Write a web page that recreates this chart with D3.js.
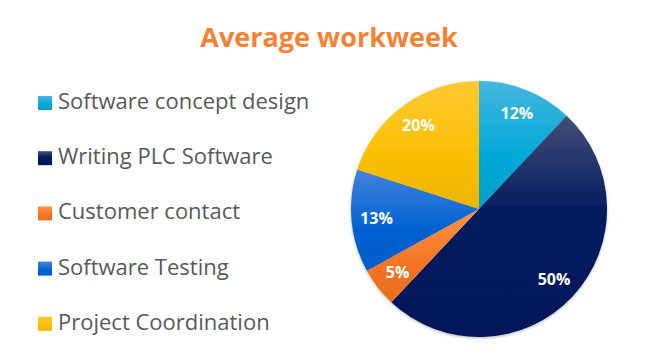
<!DOCTYPE html>
<html>
<head>
<meta charset="utf-8">
<script src="https://cdn.jsdelivr.net/npm/d3@7"></script>
<style>
  body { margin: 0; background: #fff; }
  svg { display: block; }
</style>
</head>
<body>
<svg id="chart"></svg>
<script>
// Data
var categories = ["Software concept design", "Writing PLC Software", "Customer contact", "Software Testing", "Project Coordination"];
var values = [12, 50, 5, 13, 20];
var colors = ["#00a9d8", "#001a5e", "#f37421", "#0061d2", "#f9bf00"];
var lightColors = ["#45b7df", "#454d78", "#ff9447", "#4583dd", "#ffc933"];

var width = 660, height = 361;
var cx = 479, cy = 209, radius = 128;

var svg = d3.select("#chart")
    .attr("width", width)
    .attr("height", height);

// Gradients for each slice
var defs = svg.append("defs");
categories.forEach(function(c, i) {
    var g = defs.append("linearGradient")
        .attr("id", "grad" + i)
        .attr("x1", 0).attr("y1", 0).attr("x2", 0).attr("y2", 1);
    g.append("stop").attr("offset", "0%").attr("stop-color", lightColors[i]);
    g.append("stop").attr("offset", i == 1 ? "45%" : "60%").attr("stop-color", colors[i]);
    g.append("stop").attr("offset", "100%").attr("stop-color", d3.color(colors[i]).darker(0.15));
});

var shadow = defs.append("filter").attr("id", "shadow")
    .attr("x", "-10%").attr("y", "-10%").attr("width", "120%").attr("height", "120%");
shadow.append("feDropShadow")
    .attr("dx", 0).attr("dy", 1).attr("stdDeviation", 1.5)
    .attr("flood-color", "#000").attr("flood-opacity", 0.3);

// Title
svg.append("text")
    .attr("x", 329)
    .attr("y", 47)
    .attr("text-anchor", "middle")
    .style("font-family", "'Open Sans', sans-serif")
    .style("font-size", "27px")
    .style("font-weight", "bold")
    .style("fill", "#f58232")
    .text("Average workweek");

// Pie
var pie = d3.pie().sort(null).value(function(d) { return d; });
var arc = d3.arc().innerRadius(0).outerRadius(radius);
var labelArc = d3.arc().innerRadius(103).outerRadius(103);

var g = svg.append("g")
    .attr("transform", "translate(" + cx + "," + cy + ")");

g.append("g").attr("filter", "url(#shadow)")
    .selectAll("path")
    .data(pie(values))
    .enter().append("path")
    .attr("d", arc)
    .style("fill", function(d, i) { return "url(#grad" + i + ")"; });

g.selectAll(".label")
    .data(pie(values))
    .enter().append("text")
    .attr("class", "label")
    .attr("transform", function(d) { return "translate(" + labelArc.centroid(d) + ")"; })
    .attr("text-anchor", "middle")
    .attr("dy", "0.35em")
    .style("font-family", "'Open Sans', sans-serif")
    .style("font-size", "16px")
    .style("font-weight", "bold")
    .style("fill", "#fff")
    .text(function(d) { return d.value + "%"; });

// Legend
var legend = svg.selectAll(".legend")
    .data(categories)
    .enter().append("g")
    .attr("class", "legend")
    .attr("transform", function(d, i) { return "translate(38," + (109 + i * 55.2) + ")"; });

legend.append("rect")
    .attr("x", 0)
    .attr("y", -13)
    .attr("width", 14)
    .attr("height", 14)
    .style("fill", function(d, i) { return "url(#grad" + i + ")"; });

legend.append("text")
    .attr("x", 20)
    .attr("y", 0)
    .style("font-family", "'Open Sans', sans-serif")
    .style("font-size", "22px")
    .style("fill", "#595959")
    .text(function(d) { return d; });
</script>
</body>
</html>
